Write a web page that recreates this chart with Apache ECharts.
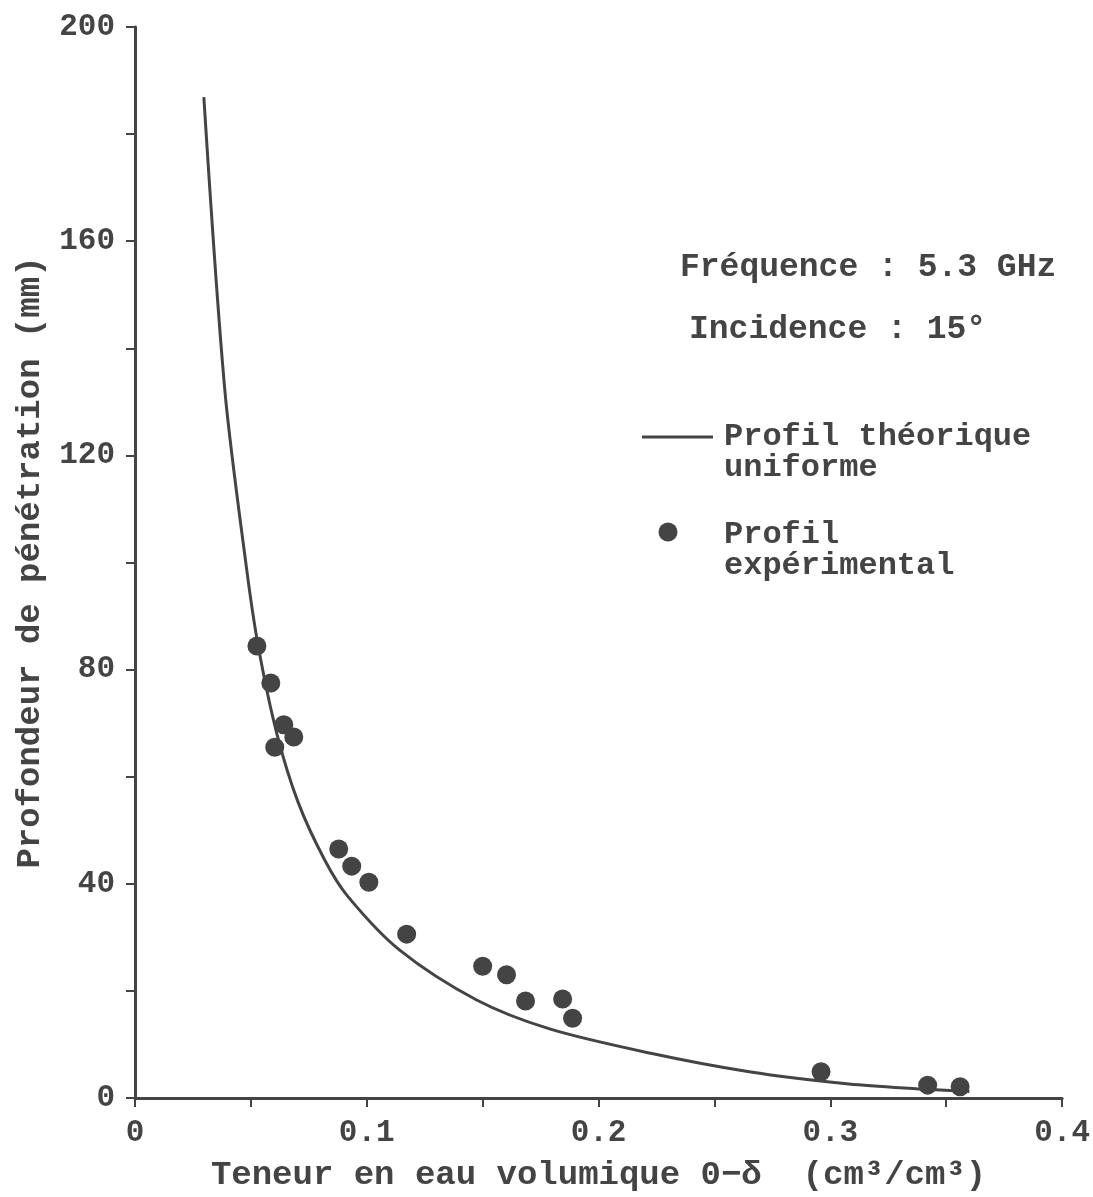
<!DOCTYPE html>
<html>

<head>
    <meta charset="utf-8">
    <title>Profondeur de pénétration</title>
    <script src="https://cdn.jsdelivr.net/npm/echarts@6/dist/echarts.min.js"></script>
</head>

<body style="margin:0">
    <div id="main" style="width: 1093px;height:1197px;"></div>
    <script type="text/javascript">
        var ink = '#444';
        var font = 'Liberation Mono';

        // profil theorique uniforme
        var theoX = [0.0297, 0.0388, 0.0481, 0.0532, 0.0611, 0.0704, 0.0819, 0.0919, 0.1142, 0.1474, 0.1789, 0.222, 0.265, 0.308, 0.338, 0.36];
        var theoY = [186.9, 132.0, 99.0, 84.3, 68.2, 55.2, 44.4, 37.6, 27.6, 18.3, 12.9, 8.4, 4.9, 2.6, 1.7, 1.2];

        // profil experimental
        var expX = [0.0526, 0.0586, 0.0642, 0.0685, 0.0603, 0.0879, 0.0935, 0.1009, 0.1172, 0.150, 0.1603, 0.1685, 0.1845, 0.1888, 0.296, 0.342, 0.356];
        var expY = [84.4, 77.5, 69.7, 67.4, 65.5, 46.5, 43.3, 40.3, 30.6, 24.6, 23.0, 18.1, 18.5, 14.9, 4.9, 2.4, 2.1];

        var dom = document.getElementById("main");
        var myChart = echarts.init(dom);

        function pairs(xs, ys) {
            return xs.map(function (x, i) { return [x, ys[i]]; });
        }

        var axisCommon = {
            axisLine: { show: true, lineStyle: { color: ink, width: 3 } },
            axisTick: { show: true, inside: false, length: 9, lineStyle: { color: ink, width: 2 } },
            minorTick: { show: true, splitNumber: 2, length: 9, lineStyle: { color: ink, width: 2 } },
            splitLine: { show: false },
            axisLabel: { color: ink, fontFamily: font, fontWeight: 'bold', fontSize: 31, margin: 20 },
            nameTextStyle: { color: ink, fontFamily: font, fontWeight: 'bold', fontSize: 34 }
        };

        var txt = 'bold 32px "Liberation Mono"';

        var option = {
            animation: false,
            backgroundColor: '#fff',
            grid: { left: 135, right: 30, top: 27, bottom: 99 },
            xAxis: Object.assign({
                type: 'value', min: 0, max: 0.4, interval: 0.1,
                name: 'Teneur en eau volumique 0\u2212\u03b4  (cm\u00b3/cm\u00b3)',
                nameLocation: 'middle', nameGap: 60
            }, axisCommon),
            yAxis: Object.assign({
                type: 'value', min: 0, max: 200, interval: 40,
                name: 'Profondeur de pénétration (mm)',
                nameLocation: 'middle', nameGap: 88
            }, axisCommon),
            series: [{
                type: 'line',
                data: pairs(theoX, theoY),
                smooth: 0.3,
                showSymbol: false,
                lineStyle: { color: ink, width: 3 }
            }, {
                type: 'scatter',
                data: pairs(expX, expY),
                symbolSize: 19,
                itemStyle: { color: ink, opacity: 1 }
            }],
            graphic: [
                { type: 'text', left: 680, top: 251, style: { text: 'Fréquence : 5.3 GHz', fill: ink, font: 'bold 33px "Liberation Mono"' } },
                { type: 'text', left: 689, top: 313, style: { text: 'Incidence : 15°', fill: ink, font: 'bold 33px "Liberation Mono"' } },
                { type: 'line', shape: { x1: 642, y1: 437, x2: 713, y2: 437 }, style: { stroke: ink, lineWidth: 3 } },
                { type: 'text', left: 724, top: 421, style: { text: 'Profil théorique\nuniforme', fill: ink, font: txt, lineHeight: 31 } },
                { type: 'circle', shape: { cx: 668, cy: 532, r: 9.5 }, style: { fill: ink } },
                { type: 'text', left: 724, top: 519, style: { text: 'Profil\nexpérimental', fill: ink, font: txt, lineHeight: 31 } }
            ]
        };

        myChart.setOption(option, true);
    </script>
</body>

</html>
